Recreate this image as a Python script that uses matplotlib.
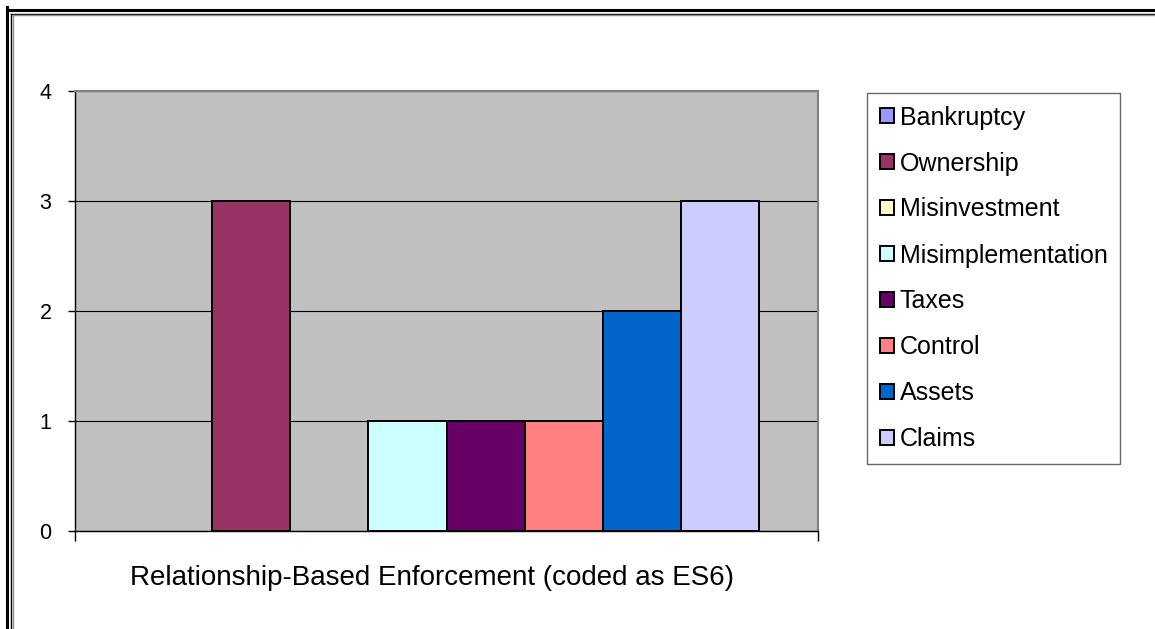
import matplotlib
matplotlib.use("Agg")
import matplotlib.pyplot as plt
from matplotlib.patches import Patch
from matplotlib.lines import Line2D

plt.rcParams['font.family'] = ['Liberation Sans', 'DejaVu Sans']

category = "Relationship-Based Enforcement (coded as ES6)"
series = ["Bankruptcy", "Ownership", "Misinvestment", "Misimplementation",
          "Taxes", "Control", "Assets", "Claims"]
values = [0, 3, 0, 1, 1, 1, 2, 3]
colors = ["#9999FF", "#993366", "#FFFFCC", "#CCFFFF",
          "#660066", "#FF8080", "#0066CC", "#CCCCFF"]
yticks = [0, 1, 2, 3, 4]

W, H = 1155, 629
fig = plt.figure(figsize=(W / 100, H / 100), dpi=100)
ax = fig.add_axes([75 / W, (H - 531) / H, (818 - 75) / W, (531 - 91) / H])
ax.set_facecolor("#C0C0C0")

group_width = 625 / 743
bw = group_width / len(series)
start = -group_width / 2
for i, (name, v, c) in enumerate(zip(series, values, colors)):
    ax.bar(start + bw * (i + 0.5), v, width=bw, color=c, edgecolor="black",
           linewidth=1.4 if v > 0 else 0, zorder=3, label=name)

ax.set_xlim(-0.5, 0.5)
ax.set_ylim(0, 4)
ax.set_yticks(yticks)
ax.set_yticklabels([str(t) for t in yticks])
ax.yaxis.grid(True, color="black", linewidth=0.8, zorder=1)
ax.set_axisbelow(True)
ax.set_xticks([-0.5, 0.5])
ax.set_xticklabels(["", ""])
ax.tick_params(axis="x", length=7, width=1, color="black", direction="out")
ax.tick_params(axis="y", length=5, width=1, color="black", direction="out",
               pad=12, labelsize=15.5)
ax.set_xlabel(category, fontsize=20)
ax.xaxis.set_label_coords((432 - 75) / 743, -(565 - 531) / 440)

for s in ["top", "right"]:
    ax.spines[s].set_color("#808080")
    ax.spines[s].set_linewidth(1.5)
for s in ["left", "bottom"]:
    ax.spines[s].set_color("black")
    ax.spines[s].set_linewidth(1.0)

handles = [Patch(facecolor=c, edgecolor="black", linewidth=1.4) for c in colors]
leg = fig.legend(handles, series, loc="upper left",
                 bbox_to_anchor=(867 / W, 1 - 93 / H), bbox_transform=fig.transFigure,
                 fontsize=18, frameon=True, fancybox=False, edgecolor="#404040",
                 handlelength=0.56, handleheight=0.56, handletextpad=0.24,
                 labelspacing=0.88, borderpad=0.5, borderaxespad=0)
leg.get_frame().set_linewidth(1.0)

# double border at left and top
fig.add_artist(Line2D([7 / W, 7 / W], [0, 1 - 7 / H], color="black", linewidth=2.2,
                      transform=fig.transFigure))
fig.add_artist(Line2D([7 / W, 1], [1 - 10 / H, 1 - 10 / H], color="black", linewidth=2.2,
                      transform=fig.transFigure))
fig.add_artist(Line2D([11 / W, 11 / W], [0, 1 - 13.5 / H], color="black", linewidth=1.0,
                      transform=fig.transFigure))
fig.add_artist(Line2D([11 / W, 1], [1 - 13.5 / H, 1 - 13.5 / H], color="black", linewidth=1.0,
                      transform=fig.transFigure))
fig.add_artist(Line2D([12.5 / W, 12.5 / W], [0, 1 - 15 / H], color="#909090", linewidth=1.0,
                      transform=fig.transFigure))
fig.add_artist(Line2D([12.5 / W, 1], [1 - 15 / H, 1 - 15 / H], color="#909090", linewidth=1.0,
                      transform=fig.transFigure))

fig.savefig("out.png", dpi=100)
